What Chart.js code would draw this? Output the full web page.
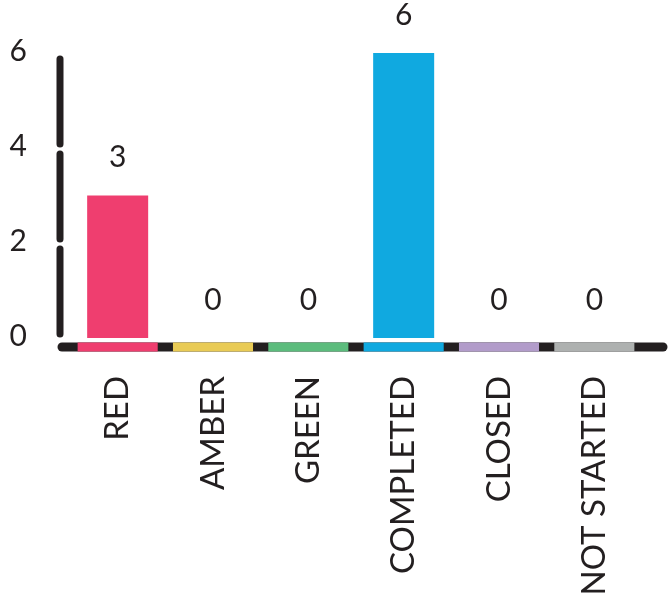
<!DOCTYPE html>
<html>
<head>
<meta charset="utf-8">
<script src="https://cdn.jsdelivr.net/npm/chart.js@4.4.1/dist/chart.umd.min.js"></script>
<style>
  html, body { margin: 0; padding: 0; background: #fff; }
  #wrap { width: 669px; height: 596px; }
</style>
</head>
<body>
<div id="wrap"><canvas id="statusChart" width="669" height="596"></canvas></div>
<script>
const categories = ['RED', 'AMBER', 'GREEN', 'COMPLETED', 'CLOSED', 'NOT STARTED'];
const counts = [3, 0, 0, 6, 0, 0];
const colours = ['#ef3e6f', '#e9cb55', '#5cbc7d', '#10a9e0', '#b29cca', '#aeb1b0'];
const yTicks = [0, 2, 4, 6];

const ink = '#231f20';

// axis lines, coloured strips under each category and the value labels
const decor = {
  id: 'decor',
  beforeDatasetsDraw(chart) {
    const ctx = chart.ctx;
    const x = chart.scales.x, y = chart.scales.y;
    const base = y.getPixelForValue(0) + 9;
    ctx.save();
    ctx.lineCap = 'round';
    ctx.strokeStyle = ink;

    // y axis, broken at each tick
    ctx.lineWidth = 7;
    const lx = x.left - 10;
    for (let i = 0; i < yTicks.length - 1; i++) {
      const a = y.getPixelForValue(yTicks[i]);
      const b = y.getPixelForValue(yTicks[i + 1]);
      ctx.beginPath();
      ctx.moveTo(lx, a - 4);
      ctx.lineTo(lx, b + 6);
      ctx.stroke();
    }

    // baseline
    ctx.lineWidth = 9;
    ctx.beginPath();
    ctx.moveTo(lx + 2, base);
    ctx.lineTo(chart.width - 6, base);
    ctx.stroke();

    const step = x.getPixelForValue(1) - x.getPixelForValue(0);
    categories.forEach((c, i) => {
      const cx = x.getPixelForValue(i);
      ctx.fillStyle = colours[i];
      ctx.fillRect(cx - step * 0.42, base - 4.5, step * 0.84, 9);
    });
    ctx.restore();
  },
  afterDatasetsDraw(chart) {
    const ctx = chart.ctx;
    const meta = chart.getDatasetMeta(0);
    ctx.save();
    ctx.fillStyle = ink;
    ctx.font = '30px Lato';
    ctx.textAlign = 'center';
    ctx.textBaseline = 'bottom';
    meta.data.forEach((bar, i) => {
      ctx.fillText(String(counts[i]), bar.x, bar.y - 23);
    });
    ctx.restore();
  }
};

new Chart(document.getElementById('statusChart'), {
  type: 'bar',
  data: {
    labels: categories,
    datasets: [{
      data: counts,
      backgroundColor: colours,
      borderWidth: 0,
      barPercentage: 0.64,
      categoryPercentage: 1
    }]
  },
  options: {
    responsive: false,
    animation: false,
    layout: { padding: { top: 48, right: 27, left: 0, bottom: 0 } },
    plugins: {
      legend: { display: false },
      tooltip: { enabled: false }
    },
    scales: {
      x: {
        grid: { display: false },
        border: { display: false },
        afterFit(scale) { scale.height = 258; },
        ticks: {
          color: ink,
          font: { family: 'Lato', size: 33 },
          maxRotation: 90,
          minRotation: 90,
          padding: 30
        }
      },
      y: {
        min: 0,
        max: 6,
        grid: { display: false },
        border: { display: false },
        afterFit(scale) { scale.width = 70; },
        afterBuildTicks(scale) { scale.ticks = yTicks.map(v => ({ value: v })); },
        ticks: {
          color: ink,
          font: { family: 'Lato', size: 30 },
          padding: 35,
          labelOffset: -2
        }
      }
    }
  },
  plugins: [decor]
});
</script>
</body>
</html>
